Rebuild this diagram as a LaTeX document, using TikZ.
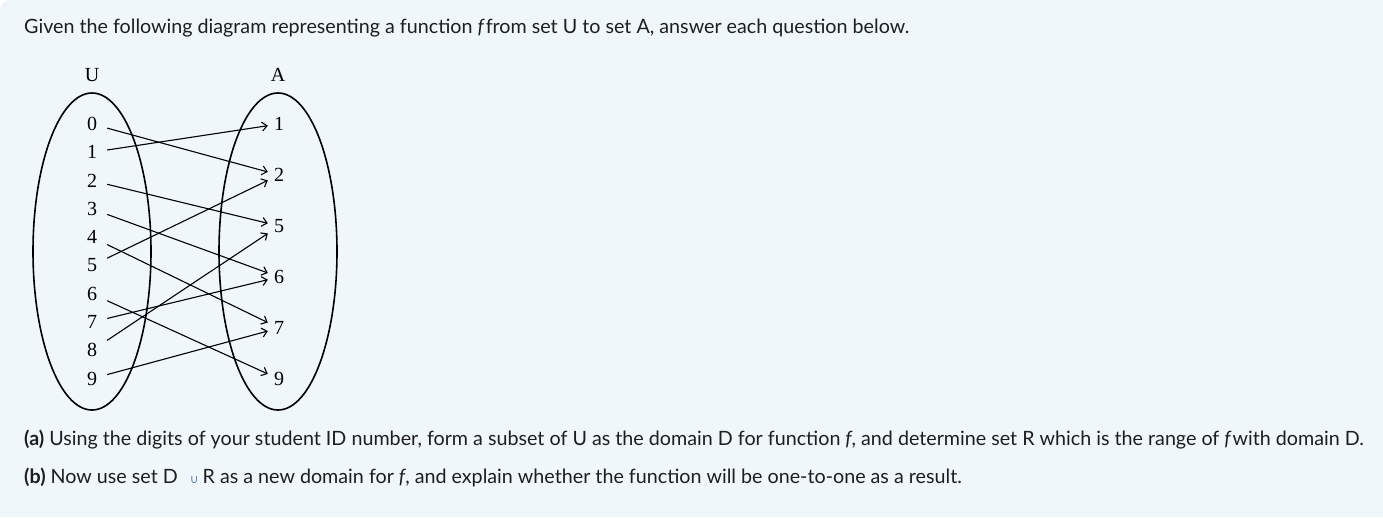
\documentclass[tikz,border=0pt]{standalone}
\usepackage{fontspec}
\setmainfont{Lato}
\newfontfamily\serifdg{Liberation Serif}
\newfontfamily\symf{DejaVu Sans}
\usetikzlibrary{arrows.meta,shapes.geometric}
\definecolor{bgc}{RGB}{240,247,250}
\definecolor{txt}{RGB}{30,30,30}
\definecolor{cupc}{RGB}{90,130,170}
\begin{document}
\begin{tikzpicture}[x=1pt,y=-1pt,
  setlbl/.style={font=\serifdg\fontsize{20}{20}\selectfont, inner sep=0pt},
  dl/.style={font=\serifdg\fontsize{20}{20}\selectfont, inner sep=0pt, minimum width=30pt, minimum height=22pt},
  dr/.style={font=\serifdg\fontsize{20}{20}\selectfont, inner sep=0pt, minimum width=22pt, minimum height=22pt},
  arr/.style={line width=1.1pt, -{Straight Barb[length=5pt,width=9pt]}},
  setov/.style={draw, ellipse, line width=1.6pt, inner sep=0pt, minimum width=118pt, minimum height=317pt},
  para/.style={font=\fontsize{19.7}{22}\selectfont, text=txt, anchor=base west, inner sep=0pt}]
\useasboundingbox (0,0) rectangle (1383,517);
\fill[white] (0,0) rectangle (1383,517);
\fill[bgc] (0,517) -- (0,10) .. controls (0,4.5) and (4.5,0) .. (10,0) -- (1383,0) -- (1383,517) -- cycle;
% sets
\node[setov] (setU) at (92,251.5) {};
\node[setov] (setA) at (278,251.5) {};
\node[setlbl] (lu) at (92,75) {U};
\node[setlbl] (la) at (278,75) {A};
% digits
\foreach \i in {0,...,9} {
  \node[dl] (u\i) at (92,124+28.3*\i) {\i};
}
\node[dr] (a1) at (279,124) {1};
\node[dr] (a2) at (279,175) {2};
\node[dr] (a5) at (279,226) {5};
\node[dr] (a6) at (279,277) {6};
\node[dr] (a7) at (279,328) {7};
\node[dr] (a9) at (279,379) {9};
% mapping
\draw[arr] (u0) -- (a2);
\draw[arr] (u1) -- (a1);
\draw[arr] (u2) -- (a5);
\draw[arr] (u3) -- (a6);
\draw[arr] (u4) -- (a7);
\draw[arr] (u5) -- (a2);
\draw[arr] (u6) -- (a9);
\draw[arr] (u7) -- (a6);
\draw[arr] (u8) -- (a5);
\draw[arr] (u9) -- (a7);
% text
\node[para] (t1) at (24,33) {Given the following diagram representing a function \textit{f}\kern1pt from set U to set A, answer each question below.};
\node[para] (ta) at (24,445) {\textbf{(a)} Using the digits of your student ID number, form a subset of U as the domain D for function \textit{f}, and determine set R which is the range of \textit{f}\kern1pt with domain D.};
\node[para] (tb) at (24,483) {\textbf{(b)} Now use set D\hspace{12pt}{\symf\color{cupc}\fontsize{12}{12}\selectfont ∪}\hspace{4pt}R as a new domain for \textit{f}, and explain whether the function will be one-to-one as a result.};
\end{tikzpicture}
\end{document}
